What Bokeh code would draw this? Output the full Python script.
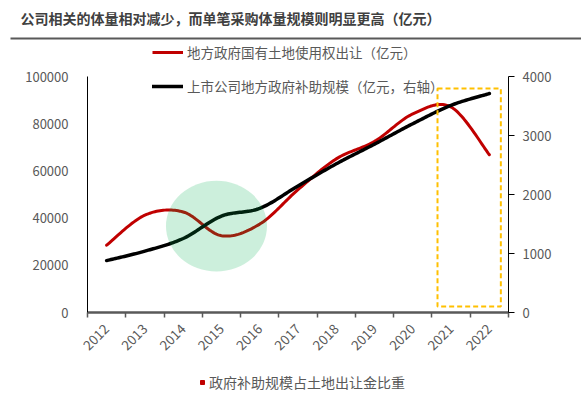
import math
import numpy as np
from bokeh.plotting import figure
from bokeh.models import (Range1d, LinearAxis, FixedTicker, Legend, LegendItem,
                          BoxAnnotation, Label, BasicTickFormatter)
from bokeh.layouts import column
from bokeh.embed import file_html
from bokeh.resources import INLINE

# ---------------- data ----------------
years = ["2012", "2013", "2014", "2015", "2016", "2017", "2018", "2019", "2020", "2021", "2022"]
land_revenue = [28517, 41250, 42606, 32547, 37457, 52059, 65096, 72517, 84142, 87051, 66854]
subsidy = [880, 1040, 1254, 1634, 1765, 2145, 2520, 2854, 3200, 3512, 3711]
left_ticks = [0, 20000, 40000, 60000, 80000, 100000]
right_ticks = [0, 1000, 2000, 3000, 4000]

title_text = "公司相关的体量相对减少，而单笔采购体量规模则明显更高（亿元）"
label_land = "地方政府国有土地使用权出让（亿元）"
label_sub = "上市公司地方政府补助规模（亿元，右轴）"
label_ratio = "政府补助规模占土地出让金比重"

FONT = "Noto Sans CJK SC"
GRAY = "#595959"
RED = "#C00000"
W = 581


def smooth(xs, ys, n=24):
    """Excel-like smoothed curve: cubic Bezier segments with Catmull-Rom tangents."""
    xs = np.asarray(xs, float)
    ys = np.asarray(ys, float)
    px = np.concatenate([[xs[0]], xs, [xs[-1]]])
    py = np.concatenate([[ys[0]], ys, [ys[-1]]])
    outx, outy = [], []
    t = np.linspace(0, 1, n)
    for i in range(len(xs) - 1):
        p0x, p0y = px[i + 1], py[i + 1]
        p3x, p3y = px[i + 2], py[i + 2]
        c1x = p0x + (px[i + 2] - px[i]) / 6
        c1y = p0y + (py[i + 2] - py[i]) / 6
        c2x = p3x - (px[i + 3] - px[i + 1]) / 6
        c2y = p3y - (py[i + 3] - py[i + 1]) / 6
        bx = (1 - t) ** 3 * p0x + 3 * (1 - t) ** 2 * t * c1x + 3 * (1 - t) * t ** 2 * c2x + t ** 3 * p3x
        by = (1 - t) ** 3 * p0y + 3 * (1 - t) ** 2 * t * c1y + 3 * (1 - t) * t ** 2 * c2y + t ** 3 * p3y
        if i > 0:
            bx, by = bx[1:], by[1:]
        outx.extend(bx)
        outy.extend(by)
    return outx, outy


def no_align(fig):
    try:
        fig.frame_align = False
    except Exception:
        pass


def strip(height):
    f = figure(width=W, height=height, output_backend="svg", toolbar_location=None,
               x_range=Range1d(0, W), y_range=Range1d(0, height), min_border=0,
               outline_line_color=None, x_axis_location=None, y_axis_location=None)
    f.grid.visible = False
    no_align(f)
    return f


idx = list(range(len(years)))
NAN = [float("nan")]

# ---------------- top strip: title, rule, first legend entry ----------------
TOP_H = 68
top = strip(TOP_H)
top.add_layout(Label(x=20, y=TOP_H - 17, text=title_text,
                     text_font=FONT, text_font_size="14px", text_font_style="bold",
                     text_color="#404040", text_baseline="middle"))
top.add_layout(BoxAnnotation(left=10, right=W, bottom=TOP_H - 39, top=TOP_H - 37,
                             fill_color=GRAY, fill_alpha=1, line_color=None))
proxy_land = top.line(x=NAN, y=NAN, line_color=RED, line_width=3)
top.add_layout(Legend(items=[LegendItem(label=label_land, renderers=[proxy_land])],
                      location=(152, 6), padding=0, margin=0,
                      glyph_width=31, glyph_height=16, label_height=16, label_standoff=4,
                      background_fill_alpha=0, border_line_color=None,
                      label_text_font=FONT, label_text_font_size="13.5px", label_text_color=GRAY))

# ---------------- main chart ----------------
MAIN_H = 297
p = figure(width=W, height=MAIN_H, output_backend="svg", toolbar_location=None,
           x_range=Range1d(-0.5, len(years) - 0.5), y_range=Range1d(0, 100000),
           min_border_left=87, min_border_right=73, min_border_top=8, min_border_bottom=53,
           outline_line_color=None, x_axis_location=None, y_axis_location=None)
p.grid.visible = False
no_align(p)
p.extra_y_ranges = {"right": Range1d(0, 4000)}

xaxis = LinearAxis(ticker=FixedTicker(ticks=idx, minor_ticks=[i - 0.5 for i in range(len(years) + 1)]),
                   major_label_overrides={i: y for i, y in enumerate(years)})
xaxis.major_label_orientation = math.pi / 4
xaxis.major_tick_line_color = None
xaxis.minor_tick_line_color = GRAY
xaxis.minor_tick_line_width = 1.5
xaxis.minor_tick_in = 0
xaxis.minor_tick_out = 5
xaxis.axis_line_color = GRAY
xaxis.axis_line_width = 2.5
xaxis.major_label_text_font = FONT
xaxis.major_label_text_font_size = "13.5px"
xaxis.major_label_text_color = GRAY
xaxis.major_label_standoff = 8
p.add_layout(xaxis, "below")

yleft = LinearAxis(ticker=FixedTicker(ticks=left_ticks),
                   formatter=BasicTickFormatter(use_scientific=False))
yleft.major_tick_line_color = None
yleft.minor_tick_line_color = None
yleft.axis_line_color = "black"
yleft.axis_line_width = 1
yleft.major_label_text_font = FONT
yleft.major_label_text_font_size = "13px"
yleft.major_label_text_color = GRAY
yleft.major_label_standoff = 13
p.add_layout(yleft, "left")

yright = LinearAxis(y_range_name="right", ticker=FixedTicker(ticks=right_ticks))
yright.major_tick_line_color = "black"
yright.major_tick_in = 0
yright.major_tick_out = 6
yright.minor_tick_line_color = None
yright.axis_line_color = "black"
yright.axis_line_width = 1
yright.major_label_text_font = FONT
yright.major_label_text_font_size = "13px"
yright.major_label_text_color = GRAY
yright.major_label_standoff = 8
p.add_layout(yright, "right")

lx, ly = smooth(idx, land_revenue)
sx, sy = smooth(idx, subsidy)
r_land = p.line(lx, ly, line_color=RED, line_width=3, line_cap="round", line_join="round")
r_sub = p.line(sx, sy, line_color="black", line_width=3.5, line_cap="round", line_join="round",
               y_range_name="right")

# highlight ellipse (translucent green) and dashed box
p.ellipse(x=[2.87], y=[36600], width=[2.64], height=[38500],
          fill_color="#00B050", fill_alpha=0.2, line_color=None)
p.add_layout(BoxAnnotation(left=8.645, right=10.30, bottom=2540, top=94900,
                           fill_alpha=0, line_color="#FFC000", line_alpha=1, line_width=2,
                           line_dash="5 3"))

p.add_layout(Legend(items=[LegendItem(label=label_sub, renderers=[r_sub])],
                    location=(65, 216), padding=0, margin=0,
                    glyph_width=31, glyph_height=16, label_height=16, label_standoff=4,
                    background_fill_alpha=0, border_line_color=None,
                    label_text_font=FONT, label_text_font_size="13.5px", label_text_color=GRAY))

# ---------------- bottom strip: ratio legend ----------------
BOT_H = 394 - TOP_H - MAIN_H
bot = strip(BOT_H)
proxy_ratio = bot.scatter(x=NAN, y=NAN, marker="square", size=8, color=RED)
bot.add_layout(Legend(items=[LegendItem(label=label_ratio, renderers=[proxy_ratio])],
                      location=(197, 2), orientation="horizontal", padding=0, margin=0,
                      glyph_width=10, glyph_height=16, label_height=16, label_standoff=2,
                      background_fill_alpha=0, border_line_color=None,
                      label_text_font=FONT, label_text_font_size="14px", label_text_color=GRAY))

layout = column(top, p, bot, spacing=0)
open("out.html", "w").write(file_html(layout, INLINE))
